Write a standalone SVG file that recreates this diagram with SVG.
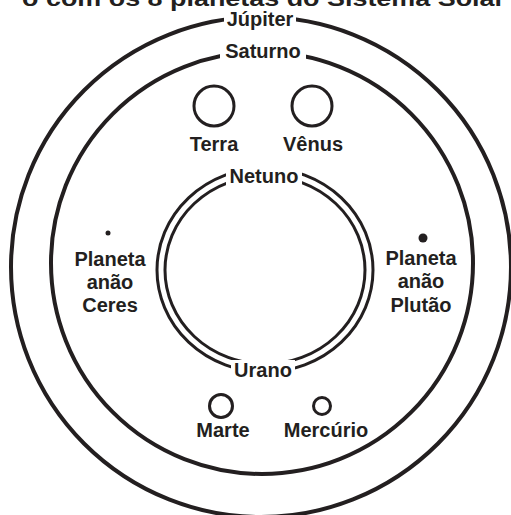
<svg xmlns="http://www.w3.org/2000/svg" width="511" height="515" viewBox="0 0 511 515">
<style>
.orb{fill:none;stroke:#231f20;stroke-width:4}
.ring{fill:none;stroke:#231f20;stroke-width:3}
.pl{fill:#fff;stroke:#231f20;stroke-width:3}
.t{font-family:"Liberation Sans",Arial,sans-serif;font-weight:bold;font-size:20px;fill:#231f20;text-anchor:middle}
.bg{fill:#fff}
</style>
<rect width="511" height="515" fill="#fff"/>
<text x="22" y="6" class="t" style="text-anchor:start;font-size:22px" textLength="483" lengthAdjust="spacingAndGlyphs">o com os 8 planetas do Sistema Solar</text>
<g id="orbits">
<circle id="jupiter-orbit" class="orb" cx="261" cy="267" r="250"/>
<circle id="saturno-orbit" class="orb" cx="262" cy="263" r="211"/>
<ellipse id="netuno-orbit" class="ring" cx="265" cy="270" rx="108" ry="102"/>
<ellipse id="urano-orbit" class="ring" cx="265" cy="270" rx="100" ry="94"/>
</g>
<g id="jupiter"><rect class="bg" x="224" y="10" width="72" height="22"/><text class="t" x="260" y="26">Júpiter</text></g>
<g id="saturno"><rect class="bg" x="220" y="42" width="86" height="20"/><text class="t" x="263" y="58">Saturno</text></g>
<g id="netuno"><rect class="bg" x="226" y="164" width="76" height="22"/><text class="t" x="264" y="183">Netuno</text></g>
<g id="urano"><rect class="bg" x="231" y="360" width="64" height="22"/><text class="t" x="263" y="377">Urano</text></g>
<g id="terra"><circle class="pl" cx="214" cy="106" r="20"/><text class="t" x="214" y="151">Terra</text></g>
<g id="venus"><circle class="pl" cx="312" cy="106" r="20"/><text class="t" x="313" y="151">Vênus</text></g>
<g id="ceres"><circle cx="108" cy="233" r="2.5" fill="#231f20"/><text class="t" x="110" y="266">Planeta</text><text class="t" x="110" y="289">anão</text><text class="t" x="110" y="312">Ceres</text></g>
<g id="plutao"><circle cx="423" cy="238" r="4.5" fill="#231f20"/><text class="t" x="421" y="265">Planeta</text><text class="t" x="421" y="288">anão</text><text class="t" x="421" y="312">Plutão</text></g>
<g id="marte"><circle class="pl" cx="221" cy="406" r="11.5"/><text class="t" x="223" y="437">Marte</text></g>
<g id="mercurio"><circle class="pl" cx="322" cy="406" r="8.5"/><text class="t" x="326" y="437">Mercúrio</text></g>
</svg>
